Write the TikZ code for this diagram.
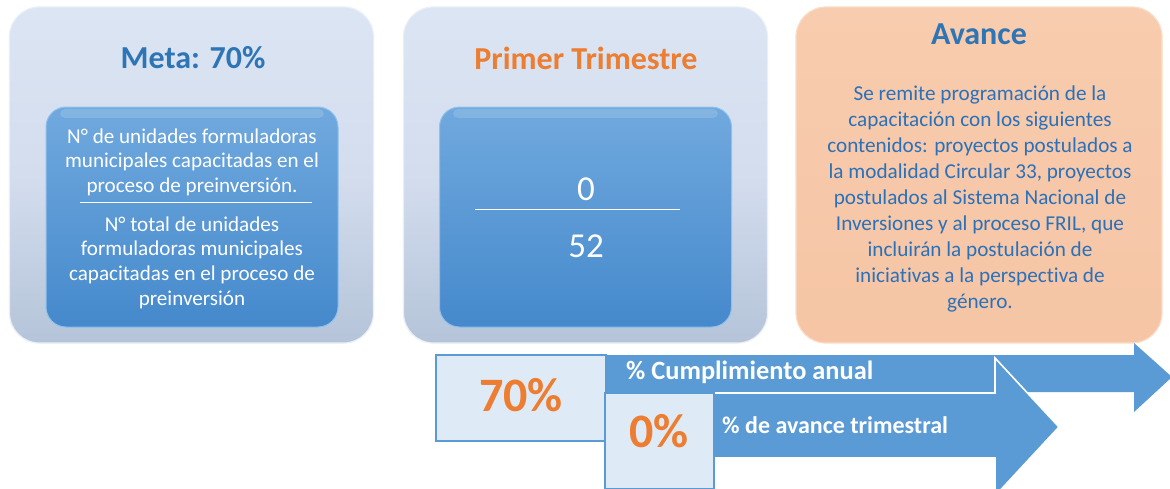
\documentclass[tikz,border=0pt]{standalone}
\usepackage{fontspec}
\setmainfont{Carlito}[Ligatures=NoCommon]
\definecolor{panelTop}{HTML}{DCE5F3}
\definecolor{panelMid}{HTML}{D3DDEE}
\definecolor{panelBot}{HTML}{B5C4D9}
\definecolor{panelEdge}{HTML}{E9EEF7}
\definecolor{innerTop}{HTML}{70A9DE}
\definecolor{innerBot}{HTML}{4589CC}
\definecolor{innerEdge}{HTML}{8EC1EC}
\definecolor{peachTop}{HTML}{F8CCAE}
\definecolor{peachBot}{HTML}{F5C5A5}
\definecolor{peachEdge}{HTML}{FADDC8}
\definecolor{titleBlue}{HTML}{2E75B6}
\definecolor{bodyBlue}{HTML}{2A71B9}
\definecolor{orangeT}{HTML}{ED7D31}
\definecolor{arrowBlue}{HTML}{5B9BD5}
\definecolor{boxFill}{HTML}{DEEAF6}
\tikzset{
  panel/.style={draw=panelEdge, line width=1.2pt, rounded corners=30pt,
    top color=panelTop, bottom color=panelBot, middle color=panelMid,
    minimum width=364pt, minimum height=336pt, inner sep=0pt},
  peachpanel/.style={draw=peachEdge, line width=1.2pt, rounded corners=30pt,
    top color=peachTop, bottom color=peachBot,
    minimum width=366pt, minimum height=336pt, inner sep=0pt},
  innerbox/.style={draw=innerEdge, line width=1pt, rounded corners=20pt,
    top color=innerTop, bottom color=innerBot,
    minimum width=292pt, minimum height=220pt, inner sep=0pt},
  gloss/.style={fill=white, fill opacity=0.14, rounded corners=5pt},
  titletext/.style={font=\bfseries\fontsize{32}{36}\selectfont, inner sep=0pt},
  whitetext/.style={text=white, align=center, inner sep=0pt,
    font=\fontsize{21.1}{24.6}\selectfont},
  bodytext/.style={text=bodyBlue, align=center, inner sep=0pt,
    font=\fontsize{21.2}{26.1}\selectfont},
  bignum/.style={text=white, inner sep=0pt, font=\fontsize{35}{40}\selectfont},
  valbox/.style={draw=arrowBlue, line width=1.6pt, fill=boxFill, inner sep=0pt},
  pct/.style={text=orangeT, inner sep=0pt, font=\bfseries\fontsize{48}{52}\selectfont},
  arrowtext/.style={text=white, inner sep=0pt, anchor=west, font=\bfseries},
  rulewhite/.style={draw=white, line width=1pt}
}
\begin{document}
\begin{tikzpicture}[x=1pt,y=-1pt]
\useasboundingbox (0,0) rectangle (1170,488);
\fill[white] (0,0) rectangle (1170,488);

% ---- left panel
\node[panel] (p1) at (191.5,175) {};
\node[titletext, text=titleBlue] (t1) at (193,58) {Meta: 70\%};
\node[innerbox] (i1) at (192,217) {};
\fill[gloss] (60,109) rectangle (324,118);
\node[whitetext] (n1) at (192,162) {N° de unidades formuladoras\\municipales capacitadas en el\\proceso de preinversión.};
\coordinate (r1a) at (80,202);
\coordinate (r1b) at (312,202);
\draw[rulewhite] (r1a) -- (r1b);
\node[whitetext] (d1) at (192,262.5) {N° total de unidades\\formuladoras municipales\\capacitadas en el proceso de\\preinversión};

% ---- middle panel
\node[panel] (p2) at (585.5,175) {};
\node[titletext, text=orangeT] (t2) at (586,58) {Primer Trimestre};
\node[innerbox] (i2) at (585.5,217) {};
\fill[gloss] (453,109) rectangle (718,118);
\node[bignum] (n2) at (586,189) {0};
\coordinate (r2a) at (475,209);
\coordinate (r2b) at (680,209);
\draw[rulewhite] (r2a) -- (r2b);
\node[bignum] (d2) at (586,246) {52};

% ---- right panel
\node[peachpanel] (p3) at (979,175) {};
\node[titletext, text=titleBlue] (t3) at (979,34) {Avance};
\node[bodytext] (b3) at (980,199) {Se remite programación de la\\capacitación con los siguientes\\contenidos: proyectos postulados a\\la modalidad Circular 33, proyectos\\postulados al Sistema Nacional de\\Inversiones y al proceso FRIL, que\\incluirán la postulación de\\iniciativas a la perspectiva de\\género.};

% ---- arrows
\fill[arrowBlue] (436,355) -- (1134,355) -- (1134,343) -- (1172,377)
  -- (1134,412) -- (1134,392) -- (436,392) -- cycle;
\node[valbox, minimum width=170pt, minimum height=86pt] (b70) at (521,398) {};
\node[pct] (v70) at (521,395) {70\%};
\node[arrowtext, font=\bfseries\fontsize{26.4}{30}\selectfont] (a1) at (626,372) {\% Cumplimiento anual};

\filldraw[fill=arrowBlue, draw=white, line width=1.6pt] (606,393) -- (995,393)
  -- (995,358) -- (1059,427) -- (995,496) -- (995,458) -- (606,458) -- cycle;
\node[valbox, minimum width=109pt, minimum height=96pt] (b0) at (659.5,441) {};
\node[pct] (v0) at (659,431) {0\%};
\node[arrowtext, font=\bfseries\fontsize{24}{28}\selectfont] (a2) at (722,425) {\% de avance trimestral};
\end{tikzpicture}
\end{document}
